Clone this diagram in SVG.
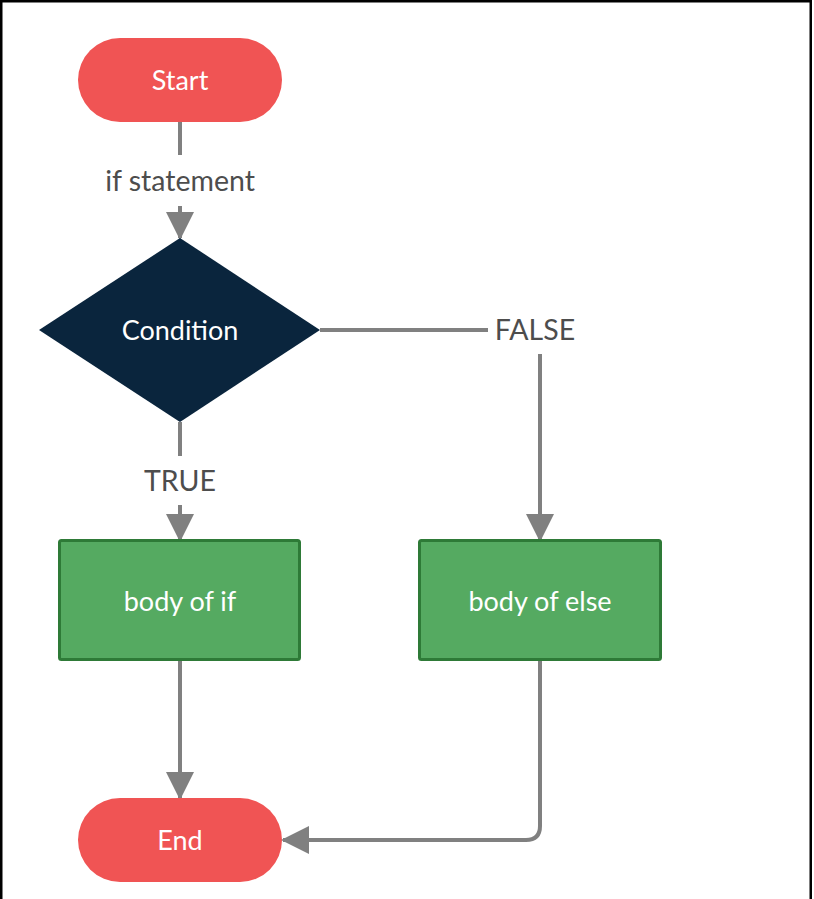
<svg xmlns="http://www.w3.org/2000/svg" width="814" height="899" viewBox="0 0 814 899">
<style>
.pill{fill:#F05454}
.dia{fill:#0A253D}
.box{fill:#55AA61;stroke:#2E7A37;stroke-width:3}
.wt{fill:#FFFFFF;font-family:Lato,"Open Sans",sans-serif;font-size:27px;text-anchor:middle;dominant-baseline:central}
.lbl{fill:#4D4D4D;font-family:Lato,"Open Sans",sans-serif;font-size:28.5px;text-anchor:middle;dominant-baseline:central}
.ln{fill:none;stroke:#808080;stroke-width:4}
</style>
<defs>
<marker id="ah" markerWidth="7" markerHeight="7" refX="6.5" refY="3.5" orient="auto" markerUnits="strokeWidth">
<path d="M0,0 L7,3.5 L0,7 Z" fill="#808080"/>
</marker>
</defs>
<rect x="0" y="0" width="814" height="899" fill="#FFFFFF"/>
<path d="M1.25,899 V1.25 H810.75 V899" fill="none" stroke="#000000" stroke-width="2.5"/>
<g id="connectors">
<path class="ln" d="M180,122 V155"/>
<path class="ln" d="M180,206 V238" marker-end="url(#ah)"/>
<text class="lbl" x="180" y="180">if statement</text>
<path class="ln" d="M180,422 V456"/>
<path class="ln" d="M180,505 V540" marker-end="url(#ah)"/>
<text class="lbl" x="180" y="480">TRUE</text>
<path class="ln" d="M320,330 H488"/>
<path class="ln" d="M540,354 V540" marker-end="url(#ah)"/>
<text class="lbl" x="535" y="329">FALSE</text>
<path class="ln" d="M180,660 V798" marker-end="url(#ah)"/>
<path class="ln" d="M540,660 V826 Q540,840 526,840 H283" marker-end="url(#ah)"/>
</g>
<g id="start">
<rect class="pill" x="78" y="38" width="204" height="84" rx="42" ry="42"/>
<text class="wt" x="180" y="79">Start</text>
</g>
<g id="condition">
<polygon class="dia" points="180,238 320,330 180,422 39,330"/>
<text class="wt" x="180" y="329">Condition</text>
</g>
<g id="body-if">
<rect class="box" x="59.5" y="540.5" width="240" height="119" rx="2"/>
<text class="wt" x="180" y="600">body of if</text>
</g>
<g id="body-else">
<rect class="box" x="419.5" y="540.5" width="241" height="119" rx="2"/>
<text class="wt" x="540" y="600">body of else</text>
</g>
<g id="end">
<rect class="pill" x="78" y="798" width="204" height="84" rx="42" ry="42"/>
<text class="wt" x="180" y="839">End</text>
</g>
</svg>
